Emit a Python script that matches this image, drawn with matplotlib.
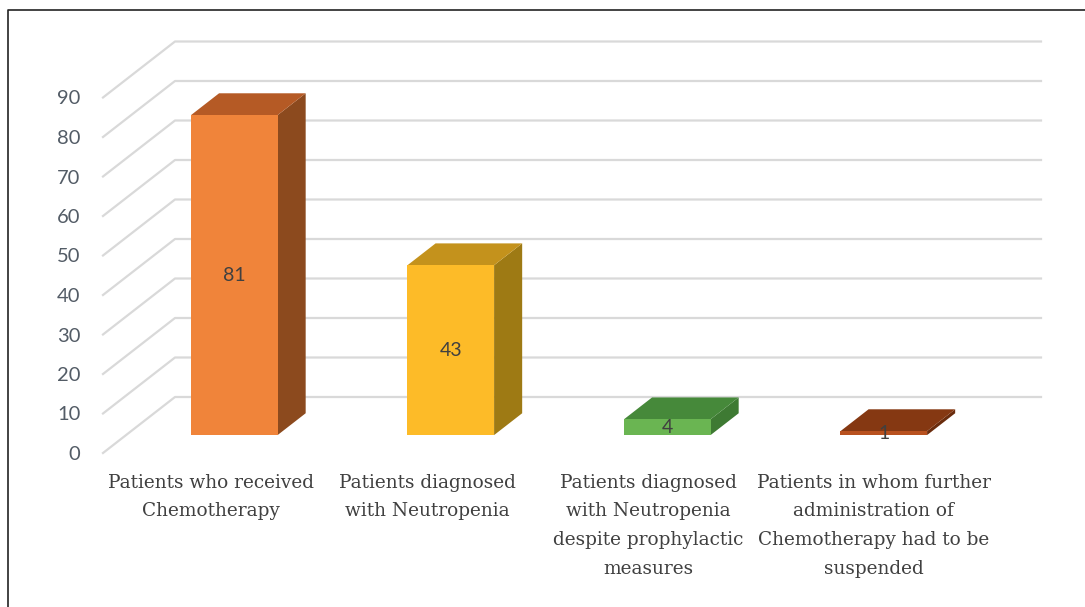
import matplotlib
matplotlib.use("Agg")
import matplotlib.pyplot as plt
from matplotlib.patches import Polygon
from matplotlib.lines import Line2D
from matplotlib.transforms import ScaledTranslation

# data
categories = [
    "Patients who received\nChemotherapy",
    "Patients diagnosed\nwith Neutropenia",
    "Patients diagnosed\nwith Neutropenia\ndespite prophylactic\nmeasures",
    "Patients in whom further\nadministration of\nChemotherapy had to be\nsuspended",
]
values = [81, 43, 4, 1]
y_ticks = [0, 10, 20, 30, 40, 50, 60, 70, 80, 90]

# colours: front, top, side
front_colors = ["#F0843A", "#FDBB28", "#6AB552", "#B8511F"]
top_colors = ["#B55A25", "#C4921C", "#46893A", "#853812"]
side_colors = ["#8C4A1E", "#9E7A14", "#3E7A33", "#6A2C0D"]

W, H = 1085, 607
fig = plt.figure(figsize=(W / 100, H / 100), dpi=100)

# front plane of the 3D chart in pixels
x_left, x_right = 103, 969
y_zero, y_top = 453, 97.5
ax = fig.add_axes([x_left / W, (H - y_zero) / H, (x_right - x_left) / W, (y_zero - y_top) / H])
ax.set_xlim(0, len(values))
ax.set_ylim(0, 90)

# depth of the floor (pixels), converted to data units
px_x = len(values) / (x_right - x_left)
px_y = 90 / (y_zero - y_top)
DX, DY = 72 * px_x, 56 * px_y
t0, t1 = 0.32, 0.71   # front/back of the bars as fraction of depth
bar_w = 0.40

# gridlines: diagonal on the left wall, then along the back wall
for v in y_ticks:
    ax.add_line(Line2D([0, DX, len(values) + DX], [v, v + DY, v + DY],
                       color="#D9D9D9", lw=1.6, clip_on=False, zorder=1))

for i, v in enumerate(values):
    c = i + 0.5
    xl = c - bar_w / 2 + t0 * DX
    xr = c + bar_w / 2 + t0 * DX
    yb = t0 * DY
    yt = yb + v
    ddx, ddy = (t1 - t0) * DX, (t1 - t0) * DY
    side = Polygon([(xr, yb), (xr, yt), (xr + ddx, yt + ddy), (xr + ddx, yb + ddy)],
                   closed=True, fc=side_colors[i], ec="none", clip_on=False, zorder=2)
    top = Polygon([(xl, yt), (xr, yt), (xr + ddx, yt + ddy), (xl + ddx, yt + ddy)],
                  closed=True, fc=top_colors[i], ec="none", clip_on=False, zorder=3)
    front = Polygon([(xl, yb), (xr, yb), (xr, yt), (xl, yt)],
                    closed=True, fc=front_colors[i], ec="none", clip_on=False, zorder=3)
    ax.add_patch(side)
    ax.add_patch(top)
    ax.add_patch(front)
    ax.text(c + t0 * DX, yb + v / 2, str(v), ha="center", va="center",
            fontsize=14, family="Lato", color="#404040", zorder=5)

for s in ax.spines.values():
    s.set_visible(False)
ax.set_facecolor("none")
ax.set_yticks(y_ticks)
ax.set_yticklabels([str(t) for t in y_ticks], family="Lato", fontsize=14.5, color="#535C66")
ax.set_xticks([i + 0.5 for i in range(len(values))])
ax.set_xticklabels(categories, family="DejaVu Serif", fontsize=13.3, color="#404040",
                   linespacing=1.76, va="top")
ax.tick_params(axis="y", length=0, pad=16.3)
ax.tick_params(axis="x", length=0, pad=15)
# the last two labels sit a little to the right in the original
for lab, shift in zip(ax.get_xticklabels()[2:], [0.04, 0.13]):
    lab.set_transform(lab.get_transform() + ScaledTranslation(shift, 0, fig.dpi_scale_trans))

# frame (left and top edges)
fig.add_artist(Line2D([8 / W, 8 / W, 1], [0, 1 - 10 / H, 1 - 10 / H],
                      transform=fig.transFigure, color="#222222", lw=1.2))

fig.savefig("out.png", dpi=100)
